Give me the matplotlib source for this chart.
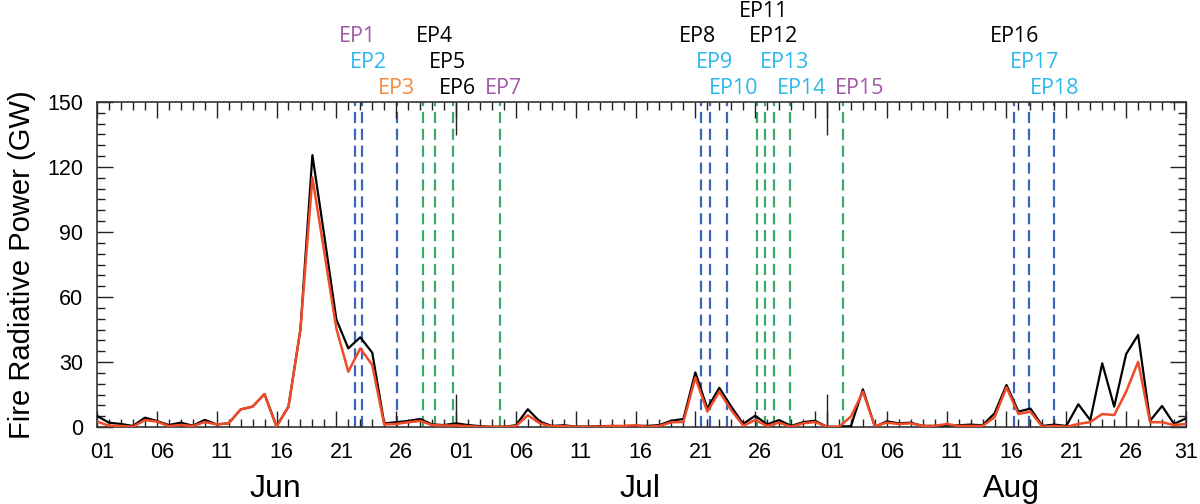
import numpy as np
import pandas as pd
import matplotlib
matplotlib.use('Agg')
import matplotlib.pyplot as plt
from matplotlib.ticker import FixedLocator, FixedFormatter, MultipleLocator
from matplotlib.transforms import ScaledTranslation, blended_transform_factory

# daily fire radiative power (GW), 1 Jun - 31 Aug
dates = pd.date_range('2019-06-01', '2019-08-31', freq='D')
frp_total = [5.1, 2.0, 1.4, 0.5, 4.3, 2.8, 0.9, 2.0, 0.6, 3.3,
             1.2, 1.7, 8.1, 9.4, 15.2, 0.3, 9.4, 45.0, 125.5, 88.0,
             49.7, 36.3, 41.4, 34.3, 1.7, 2.2, 2.8, 3.7, 1.2, 0.9,
             1.7, 0.9, 0.4, 0.1, 0.1, 0.8, 8.2, 2.5, 0.5, 0.8,
             0.2, 0.2, 0.4, 0.5, 0.4, 0.6, 0.5, 0.9, 2.9, 3.7,
             25.2, 8.6, 18.1, 9.4, 1.4, 5.2, 1.2, 3.2, 0.5, 2.2,
             2.9, 0.1, 0.1, 0.4, 17.4, 0.1, 2.6, 1.7, 2.0, 0.5,
             0.5, 0.8, 0.8, 1.1, 0.8, 6.3, 19.4, 7.1, 8.5, 0.5,
             1.1, 0.5, 10.5, 3.2, 29.4, 9.4, 33.7, 42.5, 2.9, 9.7,
             1.4, 4.0]
frp_sub = [2.5, 0.6, 0.5, 0.1, 3.2, 2.5, 0.4, 1.0, 0.4, 2.3,
           1.2, 1.7, 8.1, 9.4, 15.2, 0.1, 9.4, 45.0, 115.2, 80.4,
           45.5, 25.5, 36.3, 28.6, 1.2, 1.4, 2.2, 2.8, 0.9, 0.7,
           0.7, 0.4, 0.1, 0.1, 0.1, 0.4, 5.4, 1.7, 0.3, 0.4,
           0.1, 0.1, 0.2, 0.4, 0.5, 0.8, 0.1, 0.5, 2.2, 2.3,
           22.8, 7.1, 16.3, 7.8, 0.6, 3.2, 0.5, 2.0, 0.1, 1.7,
           2.3, 0.1, 0.1, 4.8, 16.3, 0.4, 2.0, 1.4, 1.7, 0.5,
           0.5, 1.4, 0.5, 0.5, 0.5, 4.5, 18.3, 6.0, 7.1, 0.1,
           0.5, 0.1, 1.4, 2.3, 6.0, 5.5, 16.3, 30.1, 2.2, 2.2,
           0.9, 1.4]

# events: time in days since 1 Jun, line type, label colour, label row, label x
ep_names = ['EP%d' % i for i in range(1, 19)]
ep_day = [21.53, 22.17, 25.04, 27.24, 28.27, 29.77, 33.70, 50.47, 51.22,
          52.65, 55.15, 55.82, 56.55, 57.91, 62.31, 76.65, 77.88, 79.94]
ep_kind = ['b', 'b', 'b', 'g', 'g', 'g', 'g', 'b', 'b',
           'b', 'g', 'g', 'g', 'g', 'g', 'b', 'b', 'b']
ep_color = ['purple', 'cyan', 'orange', 'black', 'black', 'black', 'purple',
            'black', 'cyan', 'cyan', 'black', 'black', 'cyan', 'cyan',
            'purple', 'black', 'cyan', 'cyan']
ep_row = [2, 1, 0, 2, 1, 0, 0, 2, 1, 0, 3, 2, 1, 0, 0, 2, 1, 0]
ep_label_x = [21.75, 22.65, 24.99, 28.16, 29.31, 30.14, 33.93, 50.16, 51.64,
              53.23, 55.68, 56.51, 57.49, 58.89, 63.76, 76.71, 78.38, 80.0]

line_colors = {'b': '#3a66b8', 'g': '#3aaa6a'}
text_colors = {'purple': '#a257a8', 'cyan': '#2bb8ea', 'orange': '#f58b3d',
               'black': 'black'}

day = np.arange(len(dates))

plt.rcParams['font.family'] = ['Liberation Sans', 'DejaVu Sans']
fig = plt.figure(figsize=(12, 5.04), dpi=100)
ax = fig.add_axes([97 / 1200, 77 / 504, 1089 / 1200, 325 / 504])

for d, k in zip(ep_day, ep_kind):
    ax.axvline(d, color=line_colors[k], lw=1.6, ls=(0, (5, 2.6)), zorder=1)

ax.plot(day, frp_total, color='black', lw=1.6, zorder=3)
ax.plot(day, frp_sub, color='#f04a26', lw=1.8, zorder=4)

ax.set_xlim(0, day[-1])
ax.set_ylim(0, 150)

# x ticks: every day minor, days 1,6,...,31 of each month major
major_pos = [i for i in day if dates[i].day in (1, 6, 11, 16, 21, 26, 31)]
major_lab = []
for i in major_pos:
    nxt = i + 1 < len(dates) and dates[i + 1].day == 1 and dates[i].day == 31
    major_lab.append('' if nxt else '%02d' % dates[i].day)
ax.xaxis.set_major_locator(FixedLocator(major_pos))
ax.xaxis.set_major_formatter(FixedFormatter(major_lab))
ax.xaxis.set_minor_locator(MultipleLocator(1))
ax.yaxis.set_major_locator(MultipleLocator(30))
ax.yaxis.set_minor_locator(MultipleLocator(5))

ax.tick_params(which='both', direction='in', top=True, right=True, colors='#222222')
ax.tick_params(which='major', length=11.5, width=1.0, labelsize=15.5, labelcolor='black')
ax.tick_params(which='minor', length=5.8, width=1.0)
ax.tick_params(axis='x', which='major', pad=11)
ax.tick_params(axis='y', which='major', pad=10)
for sp in ax.spines.values():
    sp.set_linewidth(1.2)
    sp.set_color('#333333')

# tick labels sit a little right of their ticks (not the last one, at the edge)
shift = ScaledTranslation(5 / 100, 0, fig.dpi_scale_trans)
for lab in ax.get_xticklabels()[:-1]:
    lab.set_transform(lab.get_transform() + shift)

# long ticks at month starts
trans = blended_transform_factory(ax.transData, ax.transAxes)
month_start = [i for i in day if dates[i].day == 1 and i > 0]
ax.vlines(month_start, 0, 33 / 325, transform=trans, color='#222222', lw=1.0, clip_on=False)
ax.vlines(month_start, 1 - 33 / 325, 1, transform=trans, color='#222222', lw=1.0, clip_on=False)

# month names
for m in sorted(set(dates.month)):
    idx = day[dates.month == m]
    ax.text((idx[0] + idx[-1]) / 2, -70 / 325, dates[idx[0]].strftime('%b'),
            transform=trans + shift, ha='center', va='baseline', fontsize=23)

ax.set_ylabel('Fire Radiative Power (GW)', fontsize=21, va='center')
ax.yaxis.set_label_coords(-0.069, 0.5)

# event labels above the frame
for name, lx, row, c in zip(ep_names, ep_label_x, ep_row, ep_color):
    ax.annotate(name, xy=(lx, 1), xycoords=('data', 'axes fraction'),
                xytext=(0, 9.4 + 18.7 * row), textcoords='offset points',
                ha='center', va='center', fontsize=15.5, color=text_colors[c],
                family=['Open Sans', 'DejaVu Sans'], annotation_clip=False)

fig.savefig('out.png', dpi=100)
